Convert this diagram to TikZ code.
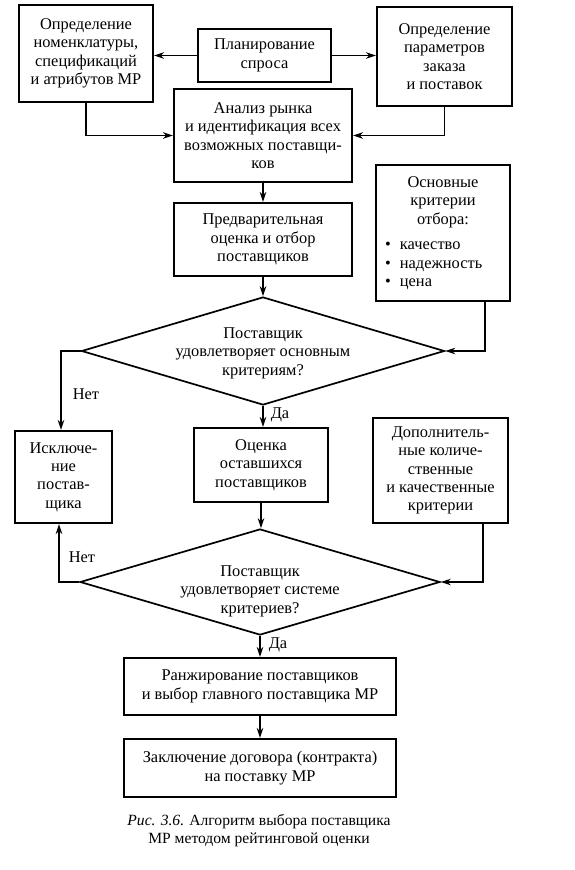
\documentclass[tikz,border=0pt]{standalone}
\usepackage{fontspec}
\setmainfont{Liberation Serif}
\usetikzlibrary{shapes.geometric,arrows.meta,calc}
\newcommand{\mfs}{\fontsize{16.4}{18.4}\selectfont}
\newcommand{\cfs}{\fontsize{15.6}{18}\selectfont}
\begin{document}
\begin{tikzpicture}[x=1pt,y=-1pt,
  box/.style={draw, line width=2pt, align=center, inner sep=0pt, font=\mfs},
  txt/.style={align=center, inner sep=0pt, font=\mfs},
  dia/.style={draw, diamond, line width=1.7pt, inner sep=0pt, aspect=3.4},
  arr/.style={line width=1.4pt, -{Stealth[length=10pt,width=6.5pt]}},
  lbl/.style={inner sep=0pt, font=\mfs}]
\useasboundingbox (0,0) rectangle (574,870);
% boxes
\node[box, minimum width=134pt, minimum height=97pt] (A) at (86,53.5)
  {Определение\\номенклатуры,\\спецификаций\\и атрибутов МР};
\node[box, minimum width=133pt, minimum height=53pt] (P) at (264.5,55.5)
  {Планирование\\спроса};
\node[box, minimum width=135pt, minimum height=99pt] (C) at (444.5,56.5)
  {Определение\\параметров\\заказа\\и поставок};
\node[box, minimum width=178pt, minimum height=93pt] (An) at (263,135.5)
  {Анализ рынка\\и идентификация всех\\возможных поставщи-\\ков};
\node[box, minimum width=134pt, minimum height=136pt] (Cr) at (443,233) {};
\node[txt] (Crt) at (443,202) {Основные\\критерии\\отбора:};
\node[txt, align=left, anchor=west] (Crl) at (385,266)
  {\textbullet\hspace{9pt}качество\\\textbullet\hspace{9pt}надежность\\\textbullet\hspace{9pt}цена};
\node[box, minimum width=178pt, minimum height=73pt] (Pr) at (263,239.5)
  {Предварительная\\оценка и отбор\\поставщиков};
\node[dia, minimum width=363pt, minimum height=108pt] (D1) at (263,351) {};
\node[txt] (D1t) at (263,353) {Поставщик\\удовлетворяет основным\\критериям?};
\node[box, minimum width=97pt, minimum height=92pt] (Ex) at (63.5,477)
  {Исключе-\\ние\\постав-\\щика};
\node[box, minimum width=134pt, minimum height=74pt] (O) at (261,465)
  {Оценка\\оставшихся\\поставщиков};
\node[box, minimum width=135pt, minimum height=105pt] (Dp) at (440.5,470.5)
  {Дополнитель-\\ные количе-\\ственные\\и качественные\\критерии};
\node[dia, minimum width=360pt, minimum height=106pt] (D2) at (260,582) {};
\node[txt] (D2t) at (260,591) {Поставщик\\удовлетворяет системе\\критериев?};
\node[box, minimum width=272pt, minimum height=57pt] (R) at (260,686.5)
  {Ранжирование поставщиков\\и выбор главного поставщика МР};
\node[box, minimum width=272pt, minimum height=58pt] (K) at (260,768)
  {Заключение договора (контракта)\\на поставку МР};
\node[txt, font=\cfs] (cap) at (259,831)
  {\textit{Рис. 3.6.} Алгоритм выбора поставщика\\МР методом рейтинговой оценки};
% labels
\node[lbl] (n1) at (86,394) {Нет};
\node[lbl] (n2) at (82,557) {Нет};
\node[lbl] (y1) at (280,415) {Да};
\node[lbl] (y2) at (278,645) {Да};
% connectors
\draw[arr] (P.west) -- (P.west -| A.east);
\draw[arr] (P.east) -- (P.east -| C.west);
\draw[arr] (A.south) |- (An.west);
\draw[arr] (C.south) |- (An.east);
\draw[arr] (An.south) -- (Pr.north);
\draw[arr] (Pr.south) -- (D1.north);
\draw[arr] ([xshift=-26pt]Cr.south east) |- (D1.east);
\draw[arr] (D1.west) -| ([xshift=-2.5pt]Ex.north);
\draw[arr] (D1.south) -- (D1.south |- O.north);
\draw[arr] (O.south) -- (O.south |- D2.north);
\draw[arr] ([xshift=-26pt]Dp.south east) |- (D2.east);
\draw[arr] (D2.west) -| ([xshift=-4.5pt]Ex.south);
\draw[arr] (D2.south) -- (R.north);
\draw[arr] (R.south) -- (K.north);
\end{tikzpicture}
\end{document}
